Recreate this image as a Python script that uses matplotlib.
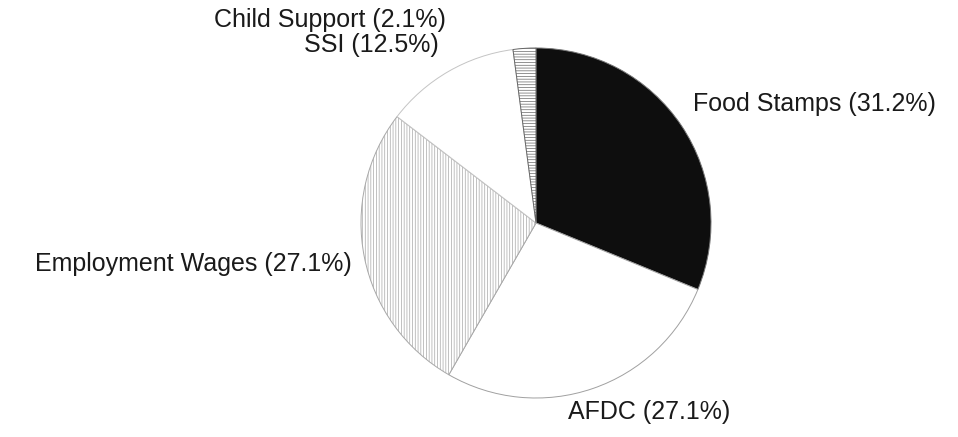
import matplotlib
matplotlib.use("Agg")
import matplotlib.pyplot as plt

# Income sources, clockwise from 12 o'clock
categories = ["Food Stamps", "AFDC", "Employment Wages", "SSI", "Child Support"]
shares = [31.2, 27.1, 27.1, 12.5, 2.1]

fills = ["#0e0e0e", "white", "white", "white", "white"]
hatches = [None, None, "||||||", None, "------"]
edges = ["#777777", "#a0a0a0", "#a8a8a8", "#c4c4c4", "#666666"]

plt.rcParams["font.family"] = ["Liberation Sans", "DejaVu Sans"]
plt.rcParams["hatch.linewidth"] = 0.5

W, H = 958, 437
fig = plt.figure(figsize=(W / 100, H / 100), dpi=100)
ax = fig.add_axes([0, 0, 1, 1])

cx, cy, r = 536, H - 223, 175
wedges, _ = ax.pie(shares, startangle=90, counterclock=False,
                   center=(cx, cy), radius=r, frame=True,
                   wedgeprops=dict(linewidth=0.7))
ax.set_xlim(0, W)
ax.set_ylim(0, H)
ax.set_aspect("equal")
ax.axis("off")
for w, fc, ht, ec in zip(wedges, fills, hatches, edges):
    w.set_facecolor(fc)
    w.set_edgecolor(ec)
    if ht:
        w.set_hatch(ht)

labels = [f"{c} ({v}%)" for c, v in zip(categories, shares)]
fs = 18
tc = "#1a1a1a"
# Food Stamps
ax.text(693, H - 104, labels[0], fontsize=fs, color=tc, ha="left", va="center")
# AFDC
ax.text(568, H - 412, labels[1], fontsize=fs, color=tc, ha="left", va="center")
# Employment Wages
ax.text(352, H - 264, labels[2], fontsize=fs, color=tc, ha="right", va="center")
# SSI
ax.text(439, H - 45, labels[3], fontsize=fs, color=tc, ha="right", va="center")
# Child Support
ax.text(446, H - 20, labels[4], fontsize=fs, color=tc, ha="right", va="center")

fig.savefig("out.png", dpi=100, facecolor="white")
